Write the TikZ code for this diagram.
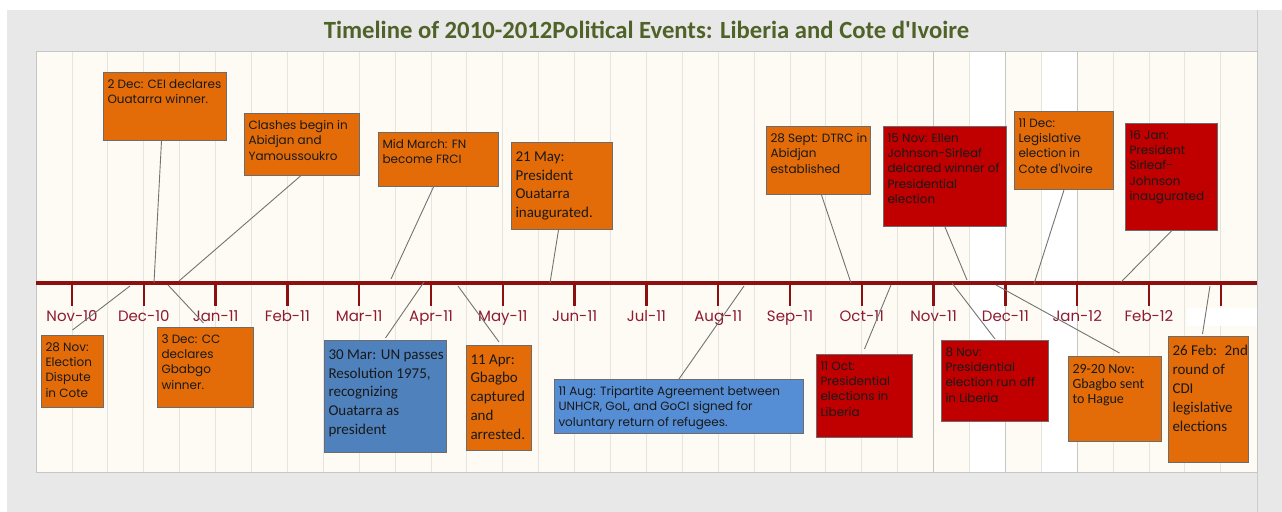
\documentclass[tikz,border=0pt]{standalone}
\usepackage{fontspec}
\setmainfont{Carlito}
\newfontfamily\gothic{Poppins}
\newfontfamily\calib{Carlito}
\definecolor{evorange}{HTML}{E36C09}
\definecolor{evred}{HTML}{C00000}
\definecolor{evblue}{HTML}{4F81BD}
\definecolor{evsky}{HTML}{558ED5}
\definecolor{axisred}{HTML}{8C1010}
\definecolor{monthred}{HTML}{8E1B30}
\definecolor{titlegreen}{HTML}{4F6228}
\definecolor{panelgray}{HTML}{E8E8E8}
\definecolor{plotcream}{HTML}{FDFBF4}
\definecolor{gridgray}{HTML}{E6E4DE}

\newlength\pxu
\setlength\pxu{0.5pt}
\def\evtop{7}
% text block of a box: width, height, lines
\newcommand{\evtext}[3]{\parbox[c][#2\pxu][t]{#1\pxu}{\raggedright\leftskip=4\pxu\vskip \evtop\pxu #3\par}}

\tikzset{
  evbox/.style={draw=gray!85!black, line width=1\pxu, anchor=north west,
    inner sep=0pt, text=black!90},
  gothictext/.style={font=\gothic\fontsize{6}{7.65}\selectfont\def\evtop{7}},
  calibtext/.style={font=\calib\fontsize{7.5}{9.4}\selectfont\def\evtop{9}},
  conn/.style={draw=gray!90!black, line width=0.9\pxu},
  gridline/.style={draw=gridgray, line width=1\pxu},
  tickline/.style={draw=axisred, line width=2.4\pxu},
  monthlbl/.style={anchor=base, text=monthred, inner sep=0pt,
    font=\gothic\fontsize{7.5}{8}\selectfont}
}

\begin{document}
\begin{tikzpicture}[x=\pxu, y=-\pxu]
  \useasboundingbox (0,0) rectangle (1282,512);
  \fill[white] (0,0) rectangle (1282,512);
  \fill[panelgray] (7,10) rectangle (1282,512);
  \draw[gray!40, line width=1\pxu] (1257,10) -- (1257,512);
  \fill[plotcream] (36,52) rectangle (1257,473);
  \fill[white] (969.5,52) rectangle (1005.4,473);
  \fill[white] (1041.3,52) rectangle (1077.2,473);
  \foreach \k in {0,...,32}
    \draw[gridline] (72+35.9*\k,52) -- (72+35.9*\k,473);
  \foreach \k in {24,26,28}
    \draw[gridline, draw=gray!45] (72+35.9*\k,52) -- (72+35.9*\k,473);
  \draw[gray!45, line width=1\pxu] (36,52) rectangle (1257,473);

  \node[anchor=base, text=titlegreen, inner sep=0pt,
    font=\calib\bfseries\fontsize{12.35}{14}\selectfont] (title) at (646.5,39)
    {Timeline of 2010-2012Political Events: Liberia and Cote d'Ivoire};

  % time axis
  \draw[axisred, line width=3.3\pxu] (36,283) -- (1257,283);
  \foreach \i in {0,...,16}
    \draw[tickline] (72+71.8*\i,283) -- (72+71.8*\i,306);
  \foreach \m [count=\i from 0] in {Nov-10,Dec-10,Jan-11,Feb-11,Mar-11,Apr-11,
      May-11,Jun-11,Jul-11,Aug-11,Sep-11,Oct-11,Nov-11,Dec-11,Jan-12,Feb-12}
    \node[monthlbl] (m\i) at (72+71.8*\i,322) {\m};
  \fill[white] (1187,308) rectangle (1256.5,326);

  % points on the axis
  \coordinate (dec2-a) at (154,283);
  \coordinate (clash-a) at (179,281);
  \coordinate (march-a) at (391,279);
  \coordinate (may21-a) at (550,283);
  \coordinate (sep28-a) at (851,283);
  \coordinate (nov15-a) at (967,280);
  \coordinate (dec11-a) at (1034,284);
  \coordinate (jan16-a) at (1121,282);
  \coordinate (nov28-a) at (130,286);
  \coordinate (dec3-a) at (168,285);
  \coordinate (mar30-a) at (424,282);
  \coordinate (apr11-a) at (458,286);
  \coordinate (aug11-a) at (744,286);
  \coordinate (oct11-a) at (891,285);
  \coordinate (nov8-a) at (952,283);
  \coordinate (nov29-a) at (996,285);
  \coordinate (feb26-a) at (1210,286);

  % boxes above the axis
  \node[evbox, fill=evorange, gothictext] (dec2) at (103,72)
    {\evtext{123}{68}{2 Dec: CEI declares\\Ouatarra winner.}};
  \node[evbox, fill=evorange, gothictext] (clash) at (244,113)
    {\evtext{115}{62}{Clashes begin in\\Abidjan and\\Yamoussoukro}};
  \node[evbox, fill=evorange, gothictext] (march) at (378,132)
    {\evtext{120}{54}{Mid March: FN\\become FRCI}};
  \node[evbox, fill=evorange, calibtext] (may21) at (511,142)
    {\evtext{101}{87}{21 May:\\President\\Ouatarra\\inaugurated.}};
  \node[evbox, fill=evorange, gothictext] (sep28) at (766,126)
    {\evtext{104}{68}{28 Sept: DTRC in\\Abidjan\\established}};
  \node[evbox, fill=evred, gothictext] (nov15) at (883,126)
    {\evtext{123}{100}{15 Nov: Ellen\\Johnson-Sirleaf\\delcared winner of\\Presidential\\election}};
  \node[evbox, fill=evorange, gothictext] (dec11) at (1014,111)
    {\evtext{99}{78}{11 Dec:\\Legislative\\election in\\Cote d'Ivoire}};
  \node[evbox, fill=evred, gothictext] (jan16) at (1125,123)
    {\evtext{92}{107}{16 Jan:\\President\\Sirleaf-\\Johnson\\inaugurated}};

  % boxes below the axis
  \node[evbox, fill=evorange, gothictext] (nov28) at (41,335)
    {\evtext{62}{72}{28 Nov:\\Election\\Dispute\\in Cote}};
  \node[evbox, fill=evorange, gothictext] (dec3) at (157,327)
    {\evtext{96}{80}{3 Dec: CC\\declares\\Gbabgo\\winner.}};
  \node[evbox, fill=evblue, calibtext] (mar30) at (324,340)
    {\evtext{122}{112}{30 Mar: UN passes\\Resolution 1975,\\recognizing\\Ouatarra as\\president}};
  \node[evbox, fill=evorange, calibtext] (apr11) at (466,345)
    {\evtext{65}{105}{11 Apr:\\Gbagbo\\captured\\and\\arrested.}};
  \node[evbox, fill=evsky, gothictext] (aug11) at (554,379)
    {\evtext{249}{54}{11 Aug: Tripartite Agreement between\\UNHCR, GoL, and GoCI signed for\\voluntary return of refugees.}};
  \node[evbox, fill=evred, gothictext] (oct11) at (816,354)
    {\evtext{96}{83}{11 Oct:\\Presidential\\elections in\\Liberia}};
  \node[evbox, fill=evred, gothictext] (nov8) at (941,340)
    {\evtext{107}{81}{8 Nov:\\Presidential\\election run off\\in Liberia}};
  \node[evbox, fill=evorange, font=\calib\fontsize{7}{7.6}\selectfont\def\evtop{8}] (nov29) at (1068,356)
    {\evtext{93}{85}{29-20 Nov:\\Gbagbo sent\\to Hague}};
  \node[evbox, fill=evorange, calibtext] (feb26) at (1168,336)
    {\evtext{80}{126}{26 Feb:\enspace 2nd\\round of\\CDI\\legislative\\elections}};

  % connectors
  \draw[conn] ([xshift=-3.5\pxu]dec2.south) -- (dec2-a);
  \draw[conn] ([xshift=-1.5\pxu]clash.south) -- (clash-a);
  \draw[conn] ([xshift=-5\pxu]march.south) -- (march-a);
  \draw[conn] ([xshift=-3.5\pxu]may21.south) -- (may21-a);
  \draw[conn] ([xshift=3\pxu]sep28.south) -- (sep28-a);
  \draw[conn] (nov15.south) -- (nov15-a);
  \draw[conn] (dec11.south) -- (dec11-a);
  \draw[conn] (jan16.south) -- (jan16-a);
  \draw[conn] ([yshift=5\pxu]nov28.north) -- (nov28-a);
  \draw[conn] ([xshift=-2\pxu,yshift=4\pxu]dec3.north) -- (dec3-a);
  \draw[conn] ([yshift=2\pxu]mar30.north) -- (mar30-a);
  \draw[conn] ([yshift=3\pxu]apr11.north) -- (apr11-a);
  \draw[conn] (aug11.north) -- (aug11-a);
  \draw[conn] ([yshift=5\pxu]oct11.north) -- (oct11-a);
  \draw[conn] ([yshift=1\pxu]nov8.north) -- (nov8-a);
  \draw[conn] ([xshift=4.5\pxu,yshift=3\pxu]nov29.north) -- (nov29-a);
  \draw[conn] ([xshift=-6\pxu,yshift=2\pxu]feb26.north) -- (feb26-a);
\end{tikzpicture}
\end{document}
